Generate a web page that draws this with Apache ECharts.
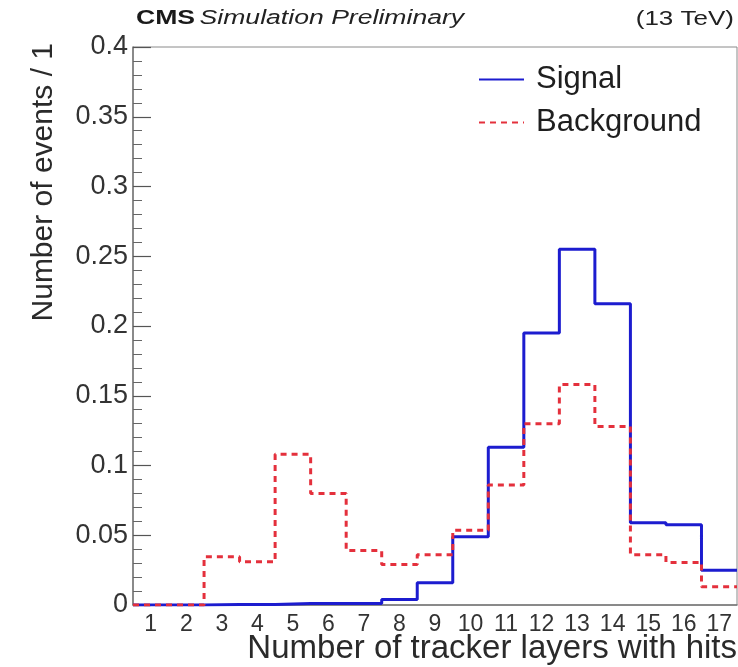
<!DOCTYPE html>
<html>
<head>
<meta charset="utf-8">
<script src="https://cdn.jsdelivr.net/npm/echarts@6/dist/echarts.min.js"></script>
<style>
  html, body { margin: 0; padding: 0; background: #fff; }
  #chart { width: 738px; height: 667px; }
</style>
</head>
<body>
<div id="chart"></div>
<script>
// Number of tracker layers with hits (bin centres)
const layers = [1, 2, 3, 4, 5, 6, 7, 8, 9, 10, 11, 12, 13, 14, 15, 16, 17];
// Normalised event fractions per bin
const signal = [0, 0, 0.0003, 0.0003, 0.001, 0.001, 0.001, 0.004, 0.016, 0.049, 0.113, 0.195, 0.255, 0.216, 0.059, 0.0575, 0.025];
const background = [0, 0, 0.0345, 0.031, 0.108, 0.080, 0.039, 0.029, 0.036, 0.0535, 0.086, 0.130, 0.158, 0.128, 0.036, 0.0305, 0.013];
const yTicks = { min: 0, max: 0.4, step: 0.05 };

// Histogram outline: a point at each bin's low edge, plus the last high edge
function histPoints(values) {
  const pts = layers.map((c, i) => [c - 0.5, values[i]]);
  pts.push([layers[layers.length - 1] + 0.5, values[values.length - 1]]);
  return pts;
}

const FONT = '"Liberation Sans", Arial, sans-serif';
const chart = echarts.init(document.getElementById('chart'));

chart.setOption({
  animation: false,
  grid: {
    left: 133, right: 1, top: 47, bottom: 62,
    containLabel: false,
    outerBoundsMode: 'none',
    show: true, borderColor: '#8a8a8a', borderWidth: 1, backgroundColor: 'transparent'
  },
  xAxis: [
    {
      // labelled axis: one tick per layer count
      type: 'category',
      data: layers.map(String),
      boundaryGap: true,
      axisLine: { lineStyle: { color: '#777', width: 1.5 } },
      axisTick: { inside: true, alignWithLabel: true, length: 14, lineStyle: { color: '#555', width: 1.2 } },
      axisLabel: { fontFamily: FONT, fontSize: 23, color: '#333', margin: 8, interval: 0 },
      splitLine: { show: false }
    },
    {
      // numeric axis carrying the bin edges
      type: 'value',
      min: layers[0] - 0.5,
      max: layers[layers.length - 1] + 0.5,
      show: false
    }
  ],
  yAxis: {
    type: 'value',
    min: yTicks.min, max: yTicks.max, interval: yTicks.step,
    axisLine: { show: true, lineStyle: { color: '#777', width: 1.5 } },
    axisTick: { show: true, inside: true, length: 18, lineStyle: { color: '#555', width: 1.2 } },
    minorTick: { show: true, splitNumber: 5, length: 9, lineStyle: { color: '#666', width: 1 } },
    axisLabel: { fontFamily: FONT, fontSize: 27, color: '#333', margin: 5 },
    splitLine: { show: false }
  },
  legend: {
    orient: 'vertical',
    left: 473, top: 59,
    itemWidth: 45, itemHeight: 14, itemGap: 12,
    itemStyle: { opacity: 0 },
    textStyle: { fontFamily: FONT, fontSize: 31, color: '#1e1e1e', padding: [0, 0, 0, 7] },
    data: ['Signal', 'Background']
  },
  series: [
    {
      name: 'Signal',
      type: 'line',
      xAxisIndex: 1,
      step: 'end',
      showSymbol: false,
      symbol: 'none',
      data: histPoints(signal),
      lineStyle: { color: '#1c1ccf', width: 3 },
      itemStyle: { color: '#1c1ccf' },
      z: 3
    },
    {
      name: 'Background',
      type: 'line',
      xAxisIndex: 1,
      step: 'end',
      showSymbol: false,
      symbol: 'none',
      data: histPoints(background),
      lineStyle: { color: '#e4303c', width: 3, type: [6, 5] },
      itemStyle: { color: '#e4303c' },
      z: 4
    }
  ],
  graphic: [
    {
      type: 'text', x: 136, y: 18, scaleX: 1.33,
      style: {
        text: '{b|CMS} {i|Simulation Preliminary}',
        verticalAlign: 'middle',
        rich: {
          b: { fontFamily: FONT, fontSize: 20, fontWeight: 'bold', fill: '#1a1a1a' },
          i: { fontFamily: FONT, fontSize: 20, fontStyle: 'italic', fill: '#222' }
        }
      }
    },
    {
      type: 'text', x: 734, y: 19, scaleX: 1.3,
      style: {
        text: '(13 TeV)', fontFamily: FONT, fontSize: 20, fill: '#222',
        align: 'right', verticalAlign: 'middle'
      }
    },
    {
      // x-axis title, right-aligned to the frame
      type: 'text', x: 737, y: 649,
      style: {
        text: 'Number of tracker layers with hits', fontFamily: FONT, fontSize: 33, fill: '#2a2a2a',
        align: 'right', verticalAlign: 'middle'
      }
    },
    {
      // y-axis title, top-aligned to the frame
      type: 'text', x: 44, y: 43, rotation: Math.PI / 2,
      style: {
        text: 'Number of events / 1', fontFamily: FONT, fontSize: 30, fill: '#2a2a2a',
        align: 'right', verticalAlign: 'middle'
      }
    }
  ]
});
</script>
</body>
</html>
